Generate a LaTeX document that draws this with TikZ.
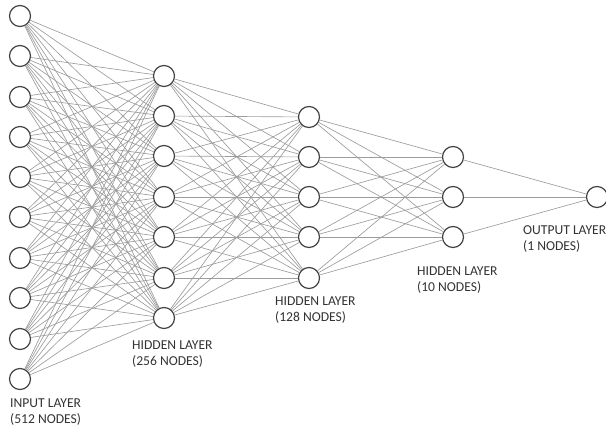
\documentclass[tikz,border=0pt]{standalone}
\usepackage{fontspec}
\setmainfont{Carlito}
\definecolor{edgegray}{HTML}{9C9C9C}
\definecolor{nodegray}{HTML}{444444}
\definecolor{textgray}{HTML}{333333}
\begin{document}
\begin{tikzpicture}
[x=1pt,y=-1pt,
  nodedecorate/.style={shape=circle,inner sep=0pt,minimum size=21pt,draw=nodegray,line width=1.2pt},%
  linedecorate/.style={-,draw=edgegray,line width=0.65pt},%
  labeldecorate/.style={anchor=north west,inner sep=0pt,align=left,text=textgray,font=\fontsize{13.6}{16}\selectfont}]
\useasboundingbox (0,0) rectangle (606,429);
%%% input layer
% nodes or vertices
\node (i1) at (20,16) [nodedecorate] {};
\node (i2) at (20,56) [nodedecorate] {};
\node (i3) at (20,97) [nodedecorate] {};
\node (i4) at (20,137) [nodedecorate] {};
\node (i5) at (20,177) [nodedecorate] {};
\node (i6) at (20,217) [nodedecorate] {};
\node (i7) at (20,258) [nodedecorate] {};
\node (i8) at (20,298) [nodedecorate] {};
\node (i9) at (20,339) [nodedecorate] {};
\node (i10) at (20,379) [nodedecorate] {};
%
%%% first hidden layer
\node (h1) at (164,76) [nodedecorate] {};
\node (h2) at (164,116) [nodedecorate] {};
\node (h3) at (164,156) [nodedecorate] {};
\node (h4) at (164,197) [nodedecorate] {};
\node (h5) at (164,237) [nodedecorate] {};
\node (h6) at (164,278) [nodedecorate] {};
\node (h7) at (164,318) [nodedecorate] {};
%
%%% second hidden layer
\node (k1) at (309,117) [nodedecorate] {};
\node (k2) at (309,157) [nodedecorate] {};
\node (k3) at (309,197) [nodedecorate] {};
\node (k4) at (309,237) [nodedecorate] {};
\node (k5) at (309,278) [nodedecorate] {};
%
%%% third hidden layer
\node (m1) at (453,157) [nodedecorate] {};
\node (m2) at (453,197) [nodedecorate] {};
\node (m3) at (453,237) [nodedecorate] {};
%
%%% output layer
\node (o1) at (597,197) [nodedecorate] {};
%
% edges or lines
\foreach \a in {1,...,10}
  \foreach \b in {1,...,7}
    \path (i\a) edge[linedecorate] (h\b);
\foreach \a in {1,...,7}
  \foreach \b in {1,...,5}
    \path (h\a) edge[linedecorate] (k\b);
\foreach \a in {1,...,5}
  \foreach \b in {1,...,3}
    \path (k\a) edge[linedecorate] (m\b);
\path
(m1) edge[linedecorate] (o1)
(m2) edge[linedecorate] (o1)
(m3) edge[linedecorate] (o1);
%
% labels
\node (li) at (10,399) [labeldecorate] {INPUT LAYER\\(512 NODES)};
\node (lh) at (132,341) [labeldecorate] {HIDDEN LAYER\\(256 NODES)};
\node (lk) at (275,297) [labeldecorate] {HIDDEN LAYER\\(128 NODES)};
\node (lm) at (417,267) [labeldecorate] {HIDDEN LAYER\\(10 NODES)};
\node (lo) at (523,225) [labeldecorate] {OUTPUT LAYER\\(1 NODES)};
\end{tikzpicture}
\end{document}
